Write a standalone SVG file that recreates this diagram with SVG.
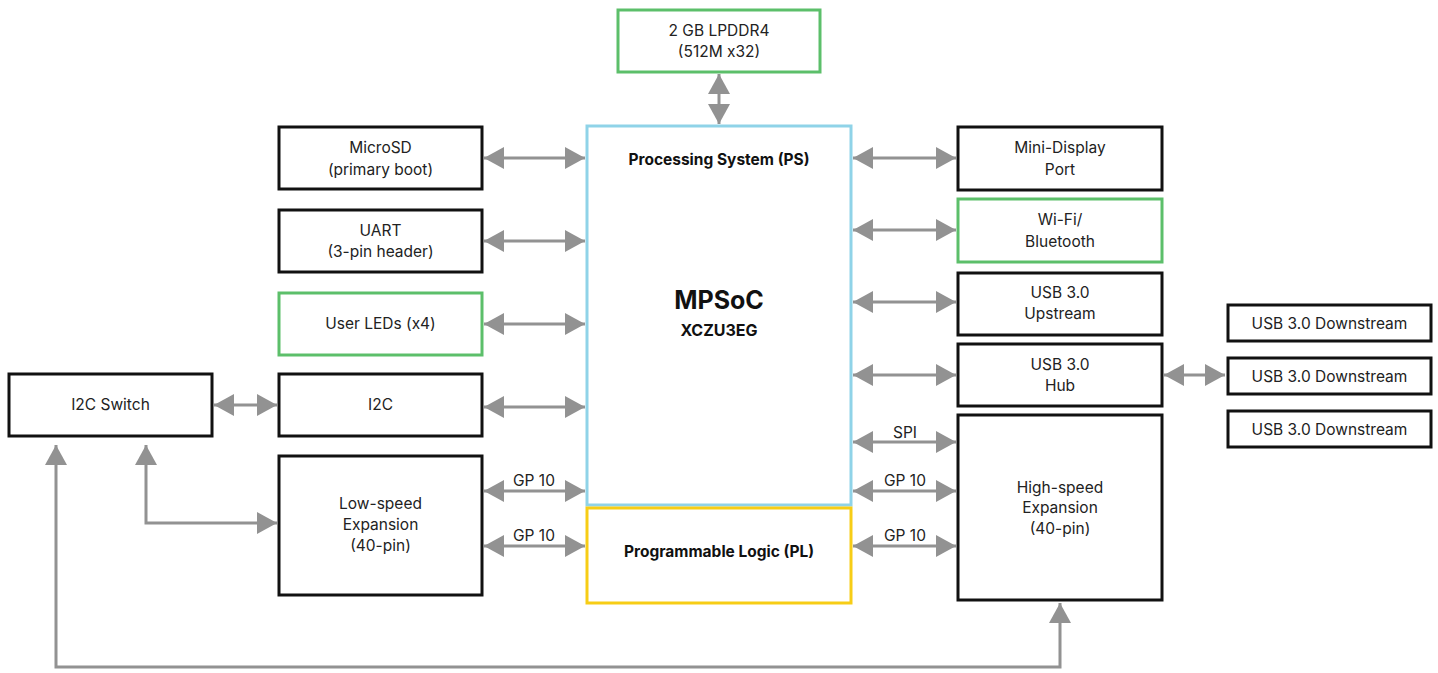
<svg xmlns="http://www.w3.org/2000/svg" width="1438" height="673" viewBox="0 0 1438 673">
<style>
.box{fill:#fff;stroke:#111;stroke-width:3}
.green{fill:#fff;stroke:#5cbf6a;stroke-width:3}
.cyan{fill:#fff;stroke:#8fd3e8;stroke-width:3}
.yellow{fill:#fff;stroke:#f7cd16;stroke-width:3}
text{font-family:Inter,"Liberation Sans",sans-serif;font-size:15.5px;fill:#222;text-anchor:middle}
.b{font-weight:bold;fill:#111}
.con{stroke:#929292;stroke-width:3;fill:none;marker-start:url(#ah);marker-end:url(#ah)}
</style>
<defs>
<marker id="ah" viewBox="0 0 20 22" refX="20" refY="11" markerWidth="20" markerHeight="22" markerUnits="userSpaceOnUse" orient="auto-start-reverse">
<path d="M0 0 L20 11 L0 22 Z" fill="#929292"/>
</marker>
</defs>
<g id="connectors">
<line class="con" x1="719" y1="74" x2="719" y2="124"/>
<line class="con" x1="484" y1="158" x2="585" y2="158"/>
<line class="con" x1="484" y1="241" x2="585" y2="241"/>
<line class="con" x1="484" y1="324" x2="585" y2="324"/>
<line class="con" x1="484" y1="407" x2="585" y2="407"/>
<line class="con" x1="484" y1="491" x2="585" y2="491"/>
<line class="con" x1="484" y1="546" x2="585" y2="546"/>
<line class="con" x1="214" y1="405" x2="277" y2="405"/>
<path class="con" d="M146 445 V523 H277"/>
<path class="con" d="M56 445 V667 H1060 V603"/>
<line class="con" x1="853" y1="158" x2="956" y2="158"/>
<line class="con" x1="853" y1="230" x2="956" y2="230"/>
<line class="con" x1="853" y1="302" x2="956" y2="302"/>
<line class="con" x1="853" y1="375" x2="956" y2="375"/>
<line class="con" x1="853" y1="442" x2="956" y2="442"/>
<line class="con" x1="853" y1="491" x2="956" y2="491"/>
<line class="con" x1="853" y1="546" x2="956" y2="546"/>
<line class="con" x1="1164" y1="375" x2="1225" y2="375"/>
<text x="534" y="486">GP 10</text>
<text x="534" y="541">GP 10</text>
<text x="905" y="438">SPI</text>
<text x="905" y="486">GP 10</text>
<text x="905" y="541">GP 10</text>
</g>
<g id="lpddr4">
<rect class="green" x="618" y="10" width="202" height="62"/>
<text x="719" y="36">2 GB LPDDR4</text>
<text x="719" y="57">(512M x32)</text>
</g>
<g id="ps">
<rect class="cyan" x="587" y="126" width="264" height="379"/>
<text class="b" x="719" y="165">Processing System (PS)</text>
<text class="b" x="719" y="309" style="font-size:25px">MPSoC</text>
<text class="b" x="719" y="336" style="font-size:16px">XCZU3EG</text>
</g>
<g id="pl">
<rect class="yellow" x="587" y="508" width="264" height="95"/>
<text class="b" x="719" y="557">Programmable Logic (PL)</text>
</g>
<g id="microsd">
<rect class="box" x="279" y="127" width="203" height="62"/>
<text x="380.5" y="153">MicroSD</text>
<text x="380.5" y="175">(primary boot)</text>
</g>
<g id="uart">
<rect class="box" x="279" y="210" width="203" height="62"/>
<text x="380.5" y="236">UART</text>
<text x="380.5" y="257">(3-pin header)</text>
</g>
<g id="leds">
<rect class="green" x="279" y="293" width="203" height="62"/>
<text x="380.5" y="329">User LEDs (x4)</text>
</g>
<g id="i2c">
<rect class="box" x="279" y="374" width="203" height="62"/>
<text x="380.5" y="410">I2C</text>
</g>
<g id="i2cswitch">
<rect class="box" x="9" y="374" width="203" height="62"/>
<text x="110.5" y="410">I2C Switch</text>
</g>
<g id="lowspeed">
<rect class="box" x="279" y="456" width="203" height="139"/>
<text x="380.5" y="509">Low-speed</text>
<text x="380.5" y="530">Expansion</text>
<text x="380.5" y="551">(40-pin)</text>
</g>
<g id="minidp">
<rect class="box" x="958" y="127" width="204" height="63"/>
<text x="1060" y="153">Mini-Display</text>
<text x="1060" y="175">Port</text>
</g>
<g id="wifi">
<rect class="green" x="958" y="199" width="204" height="63"/>
<text x="1060" y="225">Wi-Fi/</text>
<text x="1060" y="247">Bluetooth</text>
</g>
<g id="usbup">
<rect class="box" x="958" y="273" width="204" height="62"/>
<text x="1060" y="298">USB 3.0</text>
<text x="1060" y="319">Upstream</text>
</g>
<g id="usbhub">
<rect class="box" x="958" y="344" width="204" height="62"/>
<text x="1060" y="370">USB 3.0</text>
<text x="1060" y="391">Hub</text>
</g>
<g id="highspeed">
<rect class="box" x="958" y="415" width="204" height="185"/>
<text x="1060" y="493">High-speed</text>
<text x="1060" y="513">Expansion</text>
<text x="1060" y="534">(40-pin)</text>
</g>
<g id="down1">
<rect class="box" x="1228" y="305" width="203" height="36"/>
<text x="1329.5" y="329">USB 3.0 Downstream</text>
</g>
<g id="down2">
<rect class="box" x="1228" y="358" width="203" height="36"/>
<text x="1329.5" y="382">USB 3.0 Downstream</text>
</g>
<g id="down3">
<rect class="box" x="1228" y="411" width="203" height="36"/>
<text x="1329.5" y="435">USB 3.0 Downstream</text>
</g>
</svg>
